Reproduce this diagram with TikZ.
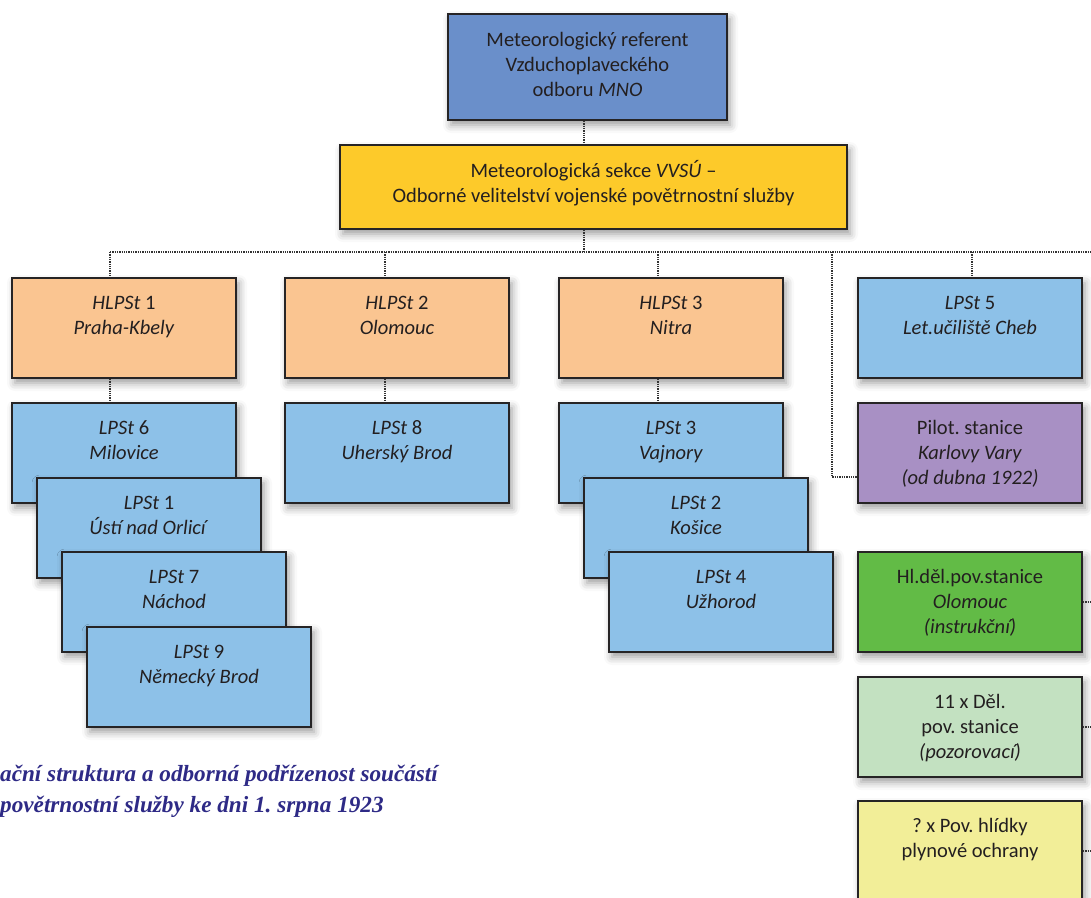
\documentclass[tikz,border=0pt]{standalone}
\usepackage{fontspec}
\setmainfont{Carlito}
\newfontfamily\capfont{Liberation Serif}
\usetikzlibrary{shadows.blur}
\frenchspacing

\definecolor{edge}{HTML}{262425}
\definecolor{ink}{HTML}{231F20}
\definecolor{linkc}{HTML}{333333}
\definecolor{chiefblue}{HTML}{6A8FCA}
\definecolor{sectyellow}{HTML}{FDCA2A}
\definecolor{mainorange}{HTML}{FAC591}
\definecolor{stblue}{HTML}{8DC1E8}
\definecolor{pilotviolet}{HTML}{A890C4}
\definecolor{artgreen}{HTML}{62BB46}
\definecolor{obsgreen}{HTML}{C3E1C1}
\definecolor{gasyellow}{HTML}{F2EE98}
\definecolor{capc}{HTML}{2E2A86}

\newcommand\cellfont{\fontsize{20.5}{25.3}\selectfont}
% box contents: text hangs from the top edge of a fixed-size box
\newcommand\cellbox[4][13.5pt]{\parbox[c][#3][t]{#2}{\centering\vspace*{#1}\strut#4}}

\begin{document}
\begin{tikzpicture}[x=1pt,y=-1pt,
  cell/.style={draw=edge, line width=2pt, inner sep=0pt, anchor=north west,
    font=\cellfont, text=ink,
    blur shadow={shadow xshift=3pt, shadow yshift=-5pt,
      shadow blur radius=8pt, shadow opacity=40}},
  link/.style={draw=linkc, line width=1.3pt, densely dotted},
  captext/.style={font=\capfont\bfseries\itshape\fontsize{23.2}{27}\selectfont,
    text=capc, inner sep=0pt, anchor=base west},
]
\useasboundingbox (0,0) rectangle (1091,897);

% --- command level ---
\node[cell, fill=chiefblue] (mno) at (447,13)
  {\cellbox[14.5pt]{279pt}{106pt}{Meteorologický referent\\Vzduchoplaveckého\\odboru \textit{MNO}}};
\node[cell, fill=sectyellow] (vvsu) at (339,144)
  {\cellbox[14.5pt]{507pt}{84pt}{Meteorologická sekce \textit{VVSÚ} –\\Odborné velitelství vojenské povětrnostní služby}};

% --- main stations ---
\node[cell, fill=mainorange] (h1) at (11,277)
  {\cellbox{224pt}{100pt}{\textit{HLPSt} 1\\\textit{Praha-Kbely}}};
\node[cell, fill=mainorange] (h2) at (284,277)
  {\cellbox{224pt}{100pt}{\textit{HLPSt} 2\\\textit{Olomouc}}};
\node[cell, fill=mainorange] (h3) at (558,277)
  {\cellbox{224pt}{100pt}{\textit{HLPSt} 3\\\textit{Nitra}}};
\node[cell, fill=stblue] (l5) at (857,277)
  {\cellbox{224pt}{100pt}{\textit{LPSt} 5\\\textit{Let.učiliště Cheb}}};

% --- stations under HLPSt 1 ---
\node[cell, fill=stblue] (l6) at (11,402)
  {\cellbox{224pt}{100pt}{\textit{LPSt} 6\\\textit{Milovice}}};
\node[cell, fill=stblue] (l1) at (36,477)
  {\cellbox{224pt}{100pt}{\textit{LPSt} 1\\\textit{Ústí nad Orlicí}}};
\node[cell, fill=stblue] (l7) at (61,551)
  {\cellbox{224pt}{100pt}{\textit{LPSt} 7\\\textit{Náchod}}};
\node[cell, fill=stblue] (l9) at (86,626)
  {\cellbox{224pt}{100pt}{\textit{LPSt} 9\\\textit{Německý Brod}}};

% --- station under HLPSt 2 ---
\node[cell, fill=stblue] (l8) at (284,402)
  {\cellbox{224pt}{100pt}{\textit{LPSt} 8\\\textit{Uherský Brod}}};

% --- stations under HLPSt 3 ---
\node[cell, fill=stblue] (l3) at (558,402)
  {\cellbox{224pt}{100pt}{\textit{LPSt} 3\\\textit{Vajnory}}};
\node[cell, fill=stblue] (l2) at (583,477)
  {\cellbox{224pt}{100pt}{\textit{LPSt} 2\\\textit{Košice}}};
\node[cell, fill=stblue] (l4) at (608,551)
  {\cellbox{224pt}{100pt}{\textit{LPSt} 4\\\textit{Užhorod}}};

% --- right column ---
\node[cell, fill=pilotviolet] (pilot) at (857,402)
  {\cellbox{224pt}{100pt}{Pilot. stanice\\\textit{Karlovy Vary}\\\textit{(od dubna 1922)}}};
\node[cell, fill=artgreen] (hdps) at (857,551)
  {\cellbox{224pt}{100pt}{Hl.děl.pov.stanice\\\textit{Olomouc}\\\textit{(instrukční)}}};
\node[cell, fill=obsgreen] (dps) at (857,676)
  {\cellbox{224pt}{100pt}{11 x Děl.\\pov. stanice\\\textit{(pozorovací)}}};
\node[cell, fill=gasyellow] (gas) at (857,800)
  {\cellbox{224pt}{100pt}{? x Pov. hlídky\\plynové ochrany}};

% --- connector positions ---
\coordinate (c0) at (584,0);
\coordinate (c1) at (110,0);
\coordinate (c2) at (385,0);
\coordinate (c3) at (658,0);
\coordinate (c4) at (832,0);
\coordinate (c5) at (972,0);
\coordinate (busL) at (110,252);
\coordinate (busR) at (1091,252);
\coordinate (py) at (0,477);
\coordinate (rim) at (1091,0);

% --- connectors ---
\draw[link] (c0 |- mno.south) -- (c0 |- vvsu.north);
\draw[link] (c0 |- vvsu.south) -- (c0 |- busL);
\draw[link] (busL) -- (busR);
\draw[link] (c1 |- busL) -- (c1 |- h1.north);
\draw[link] (c2 |- busL) -- (c2 |- h2.north);
\draw[link] (c3 |- busL) -- (c3 |- h3.north);
\draw[link] (c5 |- busL) -- (c5 |- l5.north);
\draw[link] (c1 |- h1.south) -- (c1 |- l6.north);
\draw[link] (c2 |- h2.south) -- (c2 |- l8.north);
\draw[link] (c3 |- h3.south) -- (c3 |- l3.north);
\draw[link] (c4 |- busL) -- (c4 |- py) -- (pilot.west |- py);
\draw[link] (hdps.east) -- (rim |- hdps.east);
\draw[link] (dps.east) -- (rim |- dps.east);
\draw[link] (gas.east) -- (rim |- gas.east);

% --- caption ---
\node[captext] (cap1) at (0,781) {ační struktura a odborná podřízenost součástí};
\node[captext] (cap2) at (0,812) {povětrnostní služby ke dni 1. srpna 1923};
\end{tikzpicture}
\end{document}
